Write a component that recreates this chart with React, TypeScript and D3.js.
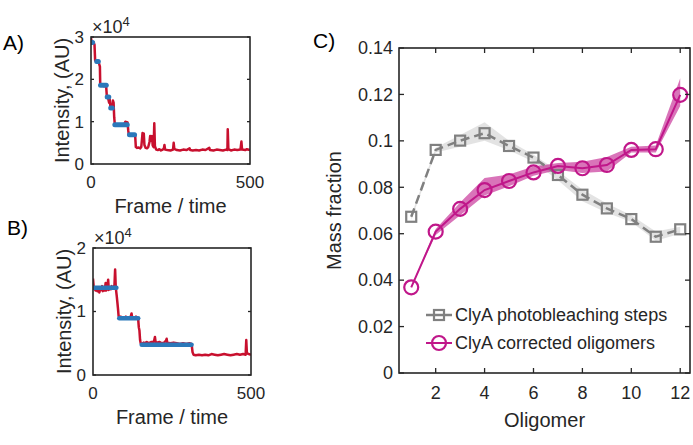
import React from "react";
import * as d3 from "d3";

// ---------- Panel A data (intensity in units of 1e4) ----------
const traceAFrames = [0,3,8,11,13,17,21,25,28,29,33,37,41,45,48,50,54,57,59,61,64,67,69,71,73,75,80,85,90,95,100,105,108,112,115,117,119,125,130,135,139,141,145,150,155,158,160,162,164,166,168,172,176,180,184,186,188,190,192,194,197,199,201,205,210,215,220,225,229,231,233,240,250,258,260,262,270,280,290,300,310,312,320,330,340,350,360,372,374,385,395,405,415,425,429,430,432,440,450,460,470,473,475,485,490,500];
const traceAValues = [2.98,2.85,2.88,2.82,2.45,2.42,2.40,2.38,2.30,1.88,1.85,1.86,1.84,1.87,1.80,1.58,1.55,1.45,1.52,1.36,1.32,1.35,1.50,1.45,1.10,0.93,0.94,0.93,0.92,0.94,0.93,0.95,1.00,0.99,0.98,0.80,0.68,0.69,0.68,0.70,0.66,0.40,0.38,0.39,0.37,0.40,0.55,0.73,0.70,0.72,0.45,0.38,0.37,0.40,0.52,0.66,0.55,0.62,0.66,0.44,0.40,0.96,0.42,0.34,0.33,0.35,0.32,0.34,0.36,0.45,0.34,0.33,0.32,0.34,0.50,0.36,0.33,0.32,0.34,0.33,0.37,0.33,0.32,0.33,0.32,0.34,0.33,0.38,0.33,0.32,0.34,0.33,0.32,0.34,0.33,0.82,0.35,0.32,0.34,0.33,0.34,0.53,0.34,0.33,0.35,0.33];
const fitAStart = [0,18,30,51,62,75,121];
const fitAEnd = [5,23,48,56,67,114,137];
const fitALevel = [2.87,2.42,1.86,1.58,1.32,0.93,0.69];

// ---------- Panel B data ----------
const traceBFrames = [0,2,5,8,11,14,17,20,23,26,29,31,34,37,40,42,45,48,50,53,56,59,62,65,68,70,72,75,77,79,81,84,88,92,96,100,104,108,112,116,120,122,124,128,132,136,140,143,145,147,149,151,155,160,165,170,175,180,185,190,194,196,198,202,210,218,225,231,233,235,245,255,265,275,285,295,305,312,315,318,325,335,345,355,365,375,385,395,405,415,425,435,445,455,465,475,483,485,487,493,500];
const traceBValues = [1.52,1.40,1.36,1.33,1.38,1.32,1.35,1.30,1.36,1.34,1.40,1.32,1.37,1.33,1.45,1.33,1.36,1.50,1.34,1.38,1.35,1.40,1.36,1.37,1.42,1.66,1.38,1.25,1.15,1.05,0.93,0.90,0.92,0.89,0.91,0.90,0.92,0.89,0.91,0.90,0.93,0.97,0.90,0.91,0.90,0.92,0.90,0.88,0.75,0.70,0.55,0.50,0.49,0.51,0.50,0.52,0.50,0.51,0.52,0.51,0.55,0.60,0.52,0.51,0.52,0.50,0.51,0.54,0.57,0.51,0.50,0.51,0.50,0.49,0.50,0.49,0.50,0.49,0.36,0.32,0.31,0.32,0.31,0.32,0.31,0.33,0.32,0.31,0.32,0.33,0.32,0.31,0.32,0.33,0.32,0.33,0.32,0.55,0.34,0.33,0.32];
const fitBStart = [4,83,154];
const fitBEnd = [74,143,312];
const fitBLevel = [1.375,0.895,0.475];

// ---------- Panel C data ----------
const oligomers = [1,2,3,4,5,6,7,8,9,10,11,12];
const photobleach = [0.0673,0.0961,0.1001,0.1033,0.0978,0.0928,0.0853,0.0768,0.0709,0.0663,0.0587,0.0619];
const photobleachUpper = [0.068,0.097,0.1025,0.108,0.100,0.094,0.087,0.079,0.073,0.068,0.061,0.063];
const photobleachLower = [0.066,0.095,0.0975,0.100,0.096,0.091,0.083,0.074,0.069,0.065,0.057,0.060];
const corrected = [0.0369,0.0609,0.0707,0.0788,0.0827,0.0864,0.0892,0.0882,0.0896,0.0961,0.0964,0.1198];
const correctedUpper = [0.037,0.062,0.0735,0.084,0.0855,0.089,0.0905,0.091,0.093,0.0975,0.098,0.127];
const correctedLower = [0.037,0.0595,0.068,0.0765,0.0805,0.085,0.0875,0.0862,0.0868,0.095,0.095,0.115];
const cYTicks = [0,0.02,0.04,0.06,0.08,0.1,0.12,0.14];
const cXTicks = [2,4,6,8,10,12];
const legendLabels = ["ClyA photobleaching steps","ClyA corrected oligomers"];

const FONT = "'Liberation Sans', Arial, Helvetica, sans-serif";
const AX = "#262626";
const RED = "#c8102e";
const BLUE = "#2b78ba";
const GRAY = "#808080";
const MAG = "#c0178a";

type TraceProps = {
  box: { l: number; r: number; t: number; b: number };
  yMax: number;
  yTicks: number[];
  frames: number[];
  values: number[];
  fitStart: number[];
  fitEnd: number[];
  fitLevel: number[];
  label: string;
  labelPos: [number, number];
  fitWidth: number;
};

function TracePanel(p: TraceProps) {
  const { box } = p;
  const x = d3.scaleLinear().domain([0, 500]).range([box.l, box.r]);
  const y = d3.scaleLinear().domain([0, p.yMax]).range([box.b, box.t]);
  const pts: [number, number][] = p.frames.map((f, i) => [f, p.values[i]]);
  const line = d3.line<[number, number]>().x(d => x(d[0])).y(d => y(d[1]));
  const xTicks = [0, 500];
  const id = "clip" + p.label.replace(")", "");
  return (
    <g>
      <text x={p.labelPos[0]} y={p.labelPos[1]} fontSize={21} fill="#000" fontFamily={FONT}>{p.label}</text>
      <defs>
        <clipPath id={id}>
          <rect x={box.l} y={box.t} width={box.r - box.l} height={box.b - box.t} />
        </clipPath>
      </defs>
      <g clipPath={`url(#${id})`}>
        <path d={line(pts) || ""} fill="none" stroke={RED} strokeWidth={2.5} strokeLinejoin="round" />
        {p.fitStart.map((s, i) => (
          <line key={i} x1={x(s)} x2={x(p.fitEnd[i])} y1={y(p.fitLevel[i])} y2={y(p.fitLevel[i])}
            stroke={BLUE} strokeWidth={p.fitWidth} strokeLinecap="round" />
        ))}
      </g>
      <rect x={box.l} y={box.t} width={box.r - box.l} height={box.b - box.t} fill="none" stroke={AX} strokeWidth={1.6} />
      {p.yTicks.map(t => (
        <g key={t}>
          <line x1={box.l} x2={box.l + 3} y1={y(t)} y2={y(t)} stroke={AX} strokeWidth={1.3} />
          <line x1={box.r} x2={box.r - 3} y1={y(t)} y2={y(t)} stroke={AX} strokeWidth={1.3} />
          <text x={box.l - 7} y={y(t)} dy="0.35em" textAnchor="end" fontSize={17} fill={AX} fontFamily={FONT}>{t}</text>
        </g>
      ))}
      {xTicks.map(t => (
        <text key={t} x={x(t)} y={box.b + 24} textAnchor="middle" fontSize={17} fill={AX} fontFamily={FONT}>{t}</text>
      ))}
      <text x={box.l + 1} y={box.t - 4} fontSize={18} fill={AX} fontFamily={FONT}>
        ×10<tspan fontSize={13} dy={-7}>4</tspan>
      </text>
      <text x={(box.l + box.r) / 2} y={box.b + 49} textAnchor="middle" fontSize={20} fill={AX} fontFamily={FONT}>Frame / time</text>
      <text transform={`translate(${box.l - 22},${(box.t + box.b) / 2}) rotate(-90)`} textAnchor="middle" fontSize={20} fill={AX} fontFamily={FONT}>Intensity, (AU)</text>
    </g>
  );
}

function PanelC() {
  const box = { l: 399, r: 690, t: 48, b: 373 };
  const x = d3.scaleLinear().domain([0.5, 12.4]).range([box.l, box.r]);
  const y = d3.scaleLinear().domain([0, 0.14]).range([box.b, box.t]);
  const grayArea = d3.area<number>().x((_, i) => x(oligomers[i]))
    .y0((_, i) => y(photobleachLower[i])).y1((_, i) => y(photobleachUpper[i]))(oligomers) || "";
  const magArea = d3.area<number>().x((_, i) => x(oligomers[i]))
    .y0((_, i) => y(correctedLower[i])).y1((_, i) => y(correctedUpper[i]))(oligomers) || "";
  const lineGen = (vals: number[]) => d3.line<number>().x((_, i) => x(oligomers[i])).y((_, i) => y(vals[i]))(oligomers) || "";
  const sq = 10;
  const cr = 7;
  return (
    <g>
      <text x={313} y={48} fontSize={21} fill="#000" fontFamily={FONT}>C)</text>
      <path d={grayArea} fill="#d9d9d9" opacity={0.75} />
      <path d={magArea} fill={MAG} opacity={0.6} />
      <path d={lineGen(photobleach)} fill="none" stroke={GRAY} strokeWidth={2.5} strokeDasharray="9,5" />
      {oligomers.map((o, i) => (
        <rect key={o} x={x(o) - sq / 2} y={y(photobleach[i]) - sq / 2} width={sq} height={sq} fill="none" stroke={GRAY} strokeWidth={2.2} />
      ))}
      <path d={lineGen(corrected)} fill="none" stroke={MAG} strokeWidth={2} />
      {oligomers.map((o, i) => (
        <circle key={o} cx={x(o)} cy={y(corrected[i])} r={cr} fill="none" stroke={MAG} strokeWidth={2.2} />
      ))}
      <rect x={box.l} y={box.t} width={box.r - box.l} height={box.b - box.t} fill="none" stroke={AX} strokeWidth={1.6} />
      {cYTicks.map(t => (
        <g key={t}>
          <line x1={box.l} x2={box.l + 5} y1={y(t)} y2={y(t)} stroke={AX} strokeWidth={1.3} />
          <line x1={box.r} x2={box.r - 5} y1={y(t)} y2={y(t)} stroke={AX} strokeWidth={1.3} />
          <text x={box.l - 6} y={y(t)} dy="0.35em" textAnchor="end" fontSize={18} fill={AX} fontFamily={FONT}>{t === 0 ? "0" : String(t)}</text>
        </g>
      ))}
      {cXTicks.map(t => (
        <g key={t}>
          <line x1={x(t)} x2={x(t)} y1={box.b} y2={box.b - 5} stroke={AX} strokeWidth={1.3} />
          <line x1={x(t)} x2={x(t)} y1={box.t} y2={box.t + 5} stroke={AX} strokeWidth={1.3} />
          <text x={x(t)} y={box.b + 26} textAnchor="middle" fontSize={18} fill={AX} fontFamily={FONT}>{t}</text>
        </g>
      ))}
      <text x={(box.l + box.r) / 2} y={427} textAnchor="middle" fontSize={20} fill={AX} fontFamily={FONT}>Oligomer</text>
      <text transform={`translate(${341},${(box.t + box.b) / 2}) rotate(-90)`} textAnchor="middle" fontSize={20} fill={AX} fontFamily={FONT}>Mass fraction</text>
      <g>
        <line x1={426} x2={452} y1={315} y2={315} stroke={GRAY} strokeWidth={2.5} />
        <rect x={439 - sq / 2} y={315 - sq / 2} width={sq} height={sq} fill="none" stroke={GRAY} strokeWidth={2.2} />
        <text x={455} y={321} fontSize={18} fill={AX} fontFamily={FONT}>{legendLabels[0]}</text>
        <line x1={426} x2={452} y1={343} y2={343} stroke={MAG} strokeWidth={2} />
        <circle cx={439} cy={343} r={cr} fill="none" stroke={MAG} strokeWidth={2.2} />
        <text x={455} y={349} fontSize={18} fill={AX} fontFamily={FONT}>{legendLabels[1]}</text>
      </g>
    </g>
  );
}

export default function App() {
  return (
    <svg width={693} height={445} style={{ position: "absolute", left: 0, top: 0, background: "#fff" }}>
      <rect width={693} height={445} fill="#fff" />
      <TracePanel box={{ l: 91, r: 250, t: 37, b: 164 }} yMax={3} yTicks={[0, 1, 2, 3]}
        frames={traceAFrames} values={traceAValues} fitStart={fitAStart} fitEnd={fitAEnd} fitLevel={fitALevel}
        label="A)" labelPos={[3, 50]} fitWidth={5} />
      <TracePanel box={{ l: 93, r: 251, t: 248, b: 375 }} yMax={2} yTicks={[0, 1, 2]}
        frames={traceBFrames} values={traceBValues} fitStart={fitBStart} fitEnd={fitBEnd} fitLevel={fitBLevel}
        label="B)" labelPos={[7, 235]} fitWidth={4.5} />
      <PanelC />
    </svg>
  );
}
